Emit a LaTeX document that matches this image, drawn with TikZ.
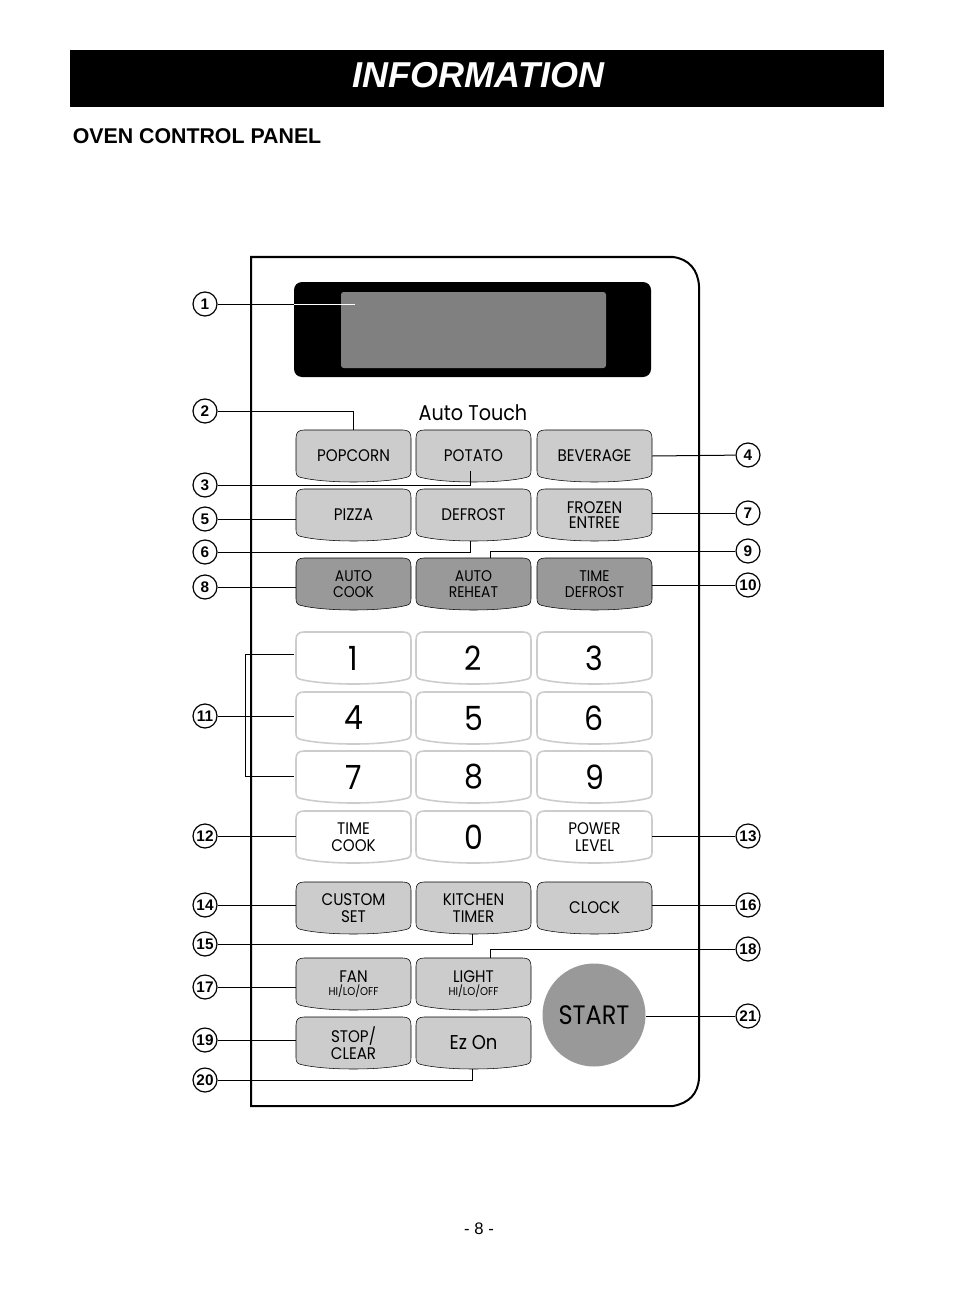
\documentclass[tikz,border=0pt]{standalone}
\usepackage{fontspec}
\setmainfont{Liberation Sans}
\newfontfamily\keyfont[FakeStretch=0.9]{Poppins}
\usetikzlibrary{arrows}
\definecolor{keygray}{HTML}{CCCCCC}
\definecolor{keydark}{HTML}{999999}
\definecolor{lcdgray}{HTML}{808080}
\tikzset{
  callout/.style={circle,draw=black,line width=0.9pt,fill=white,minimum size=18pt,inner sep=0pt,font=\bfseries\fontsize{11.5}{12}\selectfont},
  keytext/.style={minimum width=86.25pt,minimum height=39pt,inner sep=0pt,align=center,font=\keyfont\fontsize{12.6}{12}\selectfont},
  smalltext/.style={keytext,font=\keyfont\fontsize{11.6}{11.6}\selectfont},
  numtext/.style={keytext,font=\keyfont\fontsize{25}{25}\selectfont},
  link/.style={line width=0.75pt}
}
\newcommand{\panelkey}[6][keytext]{
\begin{scope}[shift={(#3,#4)}]
\draw[#5] (0,8) .. controls (0,2.5) and (2.5,0) .. (8,0) -- (107,0) .. controls (112.5,0) and (115,2.5) .. (115,8) -- (115,41) .. controls (115,45) and (113.5,46.8) .. (110,47.5) .. controls (85,53.5) and (30,53.5) .. (5,47.5) .. controls (1.5,46.8) and (0,45) .. (0,41) -- cycle;
\node[#1] (#2) at (57.5,26) {#6};
\end{scope}
}
\begin{document}
\begin{tikzpicture}[x=0.75pt,y=-0.75pt]
\useasboundingbox (0,0) rectangle (954,1291);
\fill[black] (70,50) rectangle (884,107);
\node[text=white,font=\bfseries\itshape\fontsize{27}{27}\selectfont] (title) at (478.5,75) {INFORMATION};
\node[anchor=base west,inner sep=0pt,font=\bfseries\fontsize{16}{16}\selectfont] (heading) at (72.5,144) {OVEN CONTROL PANEL};
\node[font=\fontsize{12.5}{13}\selectfont] (pageno) at (479,1229) {- 8 -};

\draw[line width=1.5pt] (699,286) .. controls (698,270) and (689,259) .. (673,257) -- (251,257) -- (251,1106) -- (673,1106) .. controls (689,1103) and (698,1094) .. (699,1078) -- cycle;

\fill[black,rounded corners=6pt] (294,282) rectangle (651,377);
\fill[lcdgray,rounded corners=2pt] (341,292) rectangle (606,368);

\node[font=\keyfont\fontsize{16}{16}\selectfont] (autotouch) at (473,413) {Auto Touch};

\panelkey{popcorn}{296}{430}{fill=keygray}{POPCORN}
\panelkey{potato}{416}{430}{fill=keygray}{POTATO}
\panelkey{beverage}{537}{430}{fill=keygray}{BEVERAGE}
\panelkey{pizza}{296}{489}{fill=keygray}{PIZZA}
\panelkey{defrost}{416}{489}{fill=keygray}{DEFROST}
\panelkey{frozen}{537}{489}{fill=keygray}{FROZEN\\[-0.5pt]ENTREE}
\panelkey[smalltext]{autocook}{296}{558}{fill=keydark}{AUTO\\COOK}
\panelkey[smalltext]{autoreheat}{416}{558}{fill=keydark}{AUTO\\REHEAT}
\panelkey[smalltext]{timedefrost}{537}{558}{fill=keydark}{TIME\\DEFROST}

\panelkey[numtext]{one}{296}{632}{draw=keygray,line width=1.2pt,fill=white}{1}
\panelkey[numtext]{two}{416}{632}{draw=keygray,line width=1.2pt,fill=white}{2}
\panelkey[numtext]{three}{537}{632}{draw=keygray,line width=1.2pt,fill=white}{3}
\panelkey[numtext]{four}{296}{692}{draw=keygray,line width=1.2pt,fill=white}{4}
\panelkey[numtext]{five}{416}{692}{draw=keygray,line width=1.2pt,fill=white}{5}
\panelkey[numtext]{six}{537}{692}{draw=keygray,line width=1.2pt,fill=white}{6}
\panelkey[numtext]{seven}{296}{751}{draw=keygray,line width=1.2pt,fill=white}{7}
\panelkey[numtext]{eight}{416}{751}{draw=keygray,line width=1.2pt,fill=white}{8}
\panelkey[numtext]{nine}{537}{751}{draw=keygray,line width=1.2pt,fill=white}{9}
\panelkey{timecook}{296}{811}{draw=keygray,line width=1.2pt,fill=white}{TIME\\[1pt]COOK}
\panelkey[numtext]{zero}{416}{811}{draw=keygray,line width=1.2pt,fill=white}{0}
\panelkey{powerlevel}{537}{811}{draw=keygray,line width=1.2pt,fill=white}{POWER\\[1pt]LEVEL}

\panelkey{custom}{296}{882}{fill=keygray}{CUSTOM\\[1pt]SET}
\panelkey{kitchen}{416}{882}{fill=keygray}{KITCHEN\\[1pt]TIMER}
\panelkey{clock}{537}{882}{fill=keygray}{CLOCK}
\panelkey{fan}{296}{958}{fill=keygray}{FAN\\[-2pt]{\fontsize{8.5}{9}\selectfont HI/LO/OFF}}
\panelkey{light}{416}{958}{fill=keygray}{LIGHT\\[-2pt]{\fontsize{8.5}{9}\selectfont HI/LO/OFF}}
\panelkey{stop}{296}{1017}{fill=keygray}{STOP/\\[1pt]CLEAR}
\panelkey{ezon}{416}{1017}{fill=keygray}{\fontsize{15}{15}\selectfont Ez On}

\node[circle,fill=keydark,minimum size=77.25pt,inner sep=0pt,font=\keyfont\fontsize{20}{20}\selectfont] (start) at (594,1015) {START};

\foreach \name/\ypos/\num in {c1/304/1,c2/411/2,c3/485/3,c5/519/5,c6/552/6,c8/587/8,c11/716/11,c12/836/12,c14/905/14,c15/944/15,c17/987/17,c19/1040/19,c20/1080/20}
  \node[callout] (\name) at (205,\ypos) {\num};
\foreach \name/\ypos/\num in {c4/455/4,c7/513/7,c9/551/9,c10/585/10,c13/836/13,c16/905/16,c18/949/18,c21/1016/21}
  \node[callout] (\name) at (748,\ypos) {\num};

\coordinate (p1a) at (294,304);
\coordinate (p1b) at (355,304);
\coordinate (p3) at (470,471);
\coordinate (p6) at (470,541);
\coordinate (p9) at (490,558);
\coordinate (p15) at (472.5,934);
\coordinate (p18) at (490,958);
\coordinate (p20) at (472.5,1069);
\coordinate (b1) at (294,654);
\coordinate (b4) at (294,716);
\coordinate (b7) at (294,776);

\draw[link] (c1) -- (p1a);
\draw[link,white] (p1a) -- (p1b);
\draw[link] (c2) -| (popcorn.north);
\draw[link] (c3) -| (p3);
\draw[link] (c5) -- (pizza.west |- c5);
\draw[link] (c6) -| (p6);
\draw[link] (c8) -- (autocook.west |- c8);
\draw[link] (c9) -| (p9);
\draw[link] (c11) -- (b4);
\draw[link] (b1) -- (245.5,654) -- (245.5,776) -- (b7);
\draw[link] (c12) -- (timecook.west |- c12);
\draw[link] (c14) -- (custom.west |- c14);
\draw[link] (c15) -| (p15);
\draw[link] (c17) -- (fan.west |- c17);
\draw[link] (c18) -| (p18);
\draw[link] (c19) -- (stop.west |- c19);
\draw[link] (c20) -| (p20);
\draw[link] (beverage.east) -- (c4);
\draw[link] (frozen.east |- c7) -- (c7);
\draw[link] (timedefrost.east |- c10) -- (c10);
\draw[link] (powerlevel.east |- c13) -- (c13);
\draw[link] (clock.east |- c16) -- (c16);
\draw[link] (start.east |- c21) -- (c21);
\end{tikzpicture}
\end{document}
